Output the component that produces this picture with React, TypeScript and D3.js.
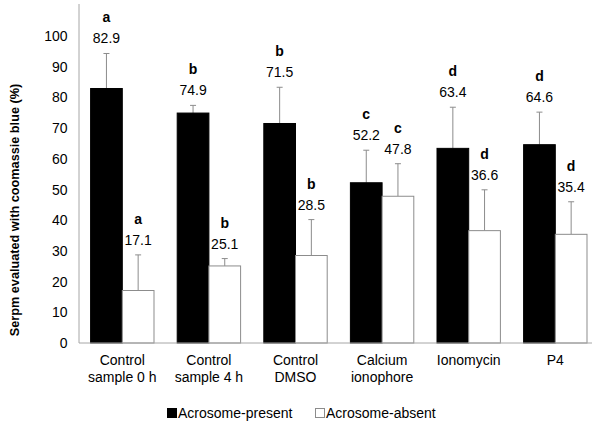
import * as d3 from "d3";
import React from "react";

const categories = [
  ["Control", "sample 0 h"],
  ["Control", "sample 4 h"],
  ["Control", "DMSO"],
  ["Calcium", "ionophore"],
  ["Ionomycin"],
  ["P4"],
];
const seriesNames = ["Acrosome-present", "Acrosome-absent"];
const presentValues = [82.9, 74.9, 71.5, 52.2, 63.4, 64.6];
const absentValues = [17.1, 25.1, 28.5, 47.8, 36.6, 35.4];
const presentErrors = [11.4, 2.5, 11.8, 10.6, 13.4, 10.6];
const absentErrors = [11.6, 2.4, 11.7, 10.6, 13.3, 10.6];
const presentLetters = ["a", "b", "b", "c", "d", "d"];
const absentLetters = ["a", "b", "b", "c", "d", "d"];
const yTicks = [0, 10, 20, 30, 40, 50, 60, 70, 80, 90, 100];

const font = "'Liberation Sans', Arial, sans-serif";

export default function App() {
  const width = 592;
  const height = 425;
  const left = 79;
  const bottom = 343;
  const fs = 14;

  const x = d3
    .scaleBand<number>()
    .domain(d3.range(categories.length))
    .range([left, 598.6]);
  const sub = d3
    .scaleBand<string>()
    .domain(seriesNames)
    .range([0, x.bandwidth()])
    .paddingOuter(0.366);
  const y = d3.scaleLinear().domain([0, 110]).range([bottom, 5.3]);

  const series = [
    { name: seriesNames[0], values: presentValues, errors: presentErrors, letters: presentLetters, fill: "#000" },
    { name: seriesNames[1], values: absentValues, errors: absentErrors, letters: absentLetters, fill: "#fff" },
  ];

  const grey = "#8c8c8c";

  return (
    <svg width={width} height={height} style={{ position: "absolute", left: 0, top: 0, background: "#fff" }} fontFamily={font}>
      {/* bars */}
      {series.map((s) =>
        s.values.map((v, i) => {
          const bx = (x(i) as number) + (sub(s.name) as number);
          const bw = sub.bandwidth();
          const cx = bx + bw / 2;
          const top = y(v + s.errors[i]);
          return (
            <g key={s.name + i}>
              <line x1={cx} x2={cx} y1={y(v)} y2={top} stroke={grey} strokeWidth={1} />
              <line x1={cx - 3} x2={cx + 3} y1={top} y2={top} stroke={grey} strokeWidth={1} />
              <rect
                x={bx}
                y={y(v)}
                width={bw}
                height={bottom - y(v)}
                fill={s.fill}
                stroke={s.fill === "#000" ? "#000" : grey}
                strokeWidth={1}
              />
              <text x={cx} y={top - 15} textAnchor="middle" dominantBaseline="central" fontSize={fs}>
                {v.toFixed(1)}
              </text>
              <text x={cx} y={top - 36} textAnchor="middle" dominantBaseline="central" fontSize={fs} fontWeight="bold">
                {s.letters[i]}
              </text>
            </g>
          );
        })
      )}
      {/* axes */}
      <line x1={left} x2={left} y1={4} y2={bottom} stroke="#a6a6a6" />
      <line x1={left} x2={width} y1={bottom} y2={bottom} stroke="#a6a6a6" />
      {yTicks.map((t) => (
        <text key={t} x={67.5} y={y(t)} textAnchor="end" dominantBaseline="central" fontSize={fs}>
          {t}
        </text>
      ))}
      {categories.map((c, i) => (
        <text key={i} textAnchor="middle" fontSize={fs}>
          {c.map((line, j) => (
            <tspan key={j} x={(x(i) as number) + x.bandwidth() / 2} y={365 + j * 17}>
              {line}
            </tspan>
          ))}
        </text>
      ))}
      <text
        transform="translate(15,210) rotate(-90)"
        textAnchor="middle"
        dominantBaseline="central"
        fontSize={12.7}
        fontWeight="bold"
      >
        Serpm evaluated with coomassie blue (%)
      </text>
      {/* legend */}
      <g>
        <rect x={167.5} y={408.5} width={9} height={9} fill="#000" stroke="#000" />
        <text x={178} y={413} dominantBaseline="central" fontSize={fs}>
          {seriesNames[0]}
        </text>
        <rect x={315.5} y={408.5} width={9} height={9} fill="#fff" stroke={grey} />
        <text x={326} y={413} dominantBaseline="central" fontSize={fs}>
          {seriesNames[1]}
        </text>
      </g>
    </svg>
  );
}
